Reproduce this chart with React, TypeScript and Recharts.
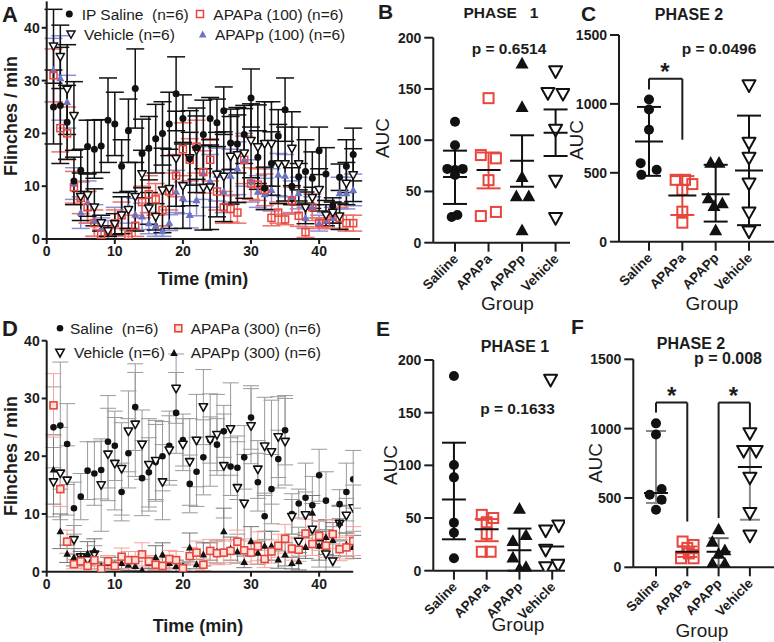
import React from 'react';
import { ScatterChart, Scatter, XAxis, YAxis, ErrorBar, ReferenceLine } from 'recharts';

const FONT = '"Liberation Sans", Arial, Helvetica, sans-serif';
const INK = '#1c1c1c';
const RED = '#e8453c';
const BLUE = '#6c72c4';

// ---------- Time course data (A: 100 mg/kg, D: 300 mg/kg) ----------
const minutes = [1, 2, 3, 4, 5, 6, 7, 8, 9, 10, 11, 12, 13, 14, 15, 16, 17, 18, 19, 20, 21, 22, 23, 24, 25, 26, 27, 28, 29, 30, 31, 32, 33, 34, 35, 36, 37, 38, 39, 40, 41, 42, 43, 44, 45];
const timeTicks = [0, 10, 20, 30, 40];

const salineFlinch = [25, 25.3, 22.1, 11, 13, 17.5, 17, 17.6, 22.5, 21.8, 13.8, 20.5, 28.5, 16.2, 17.2, 19, 20, 21.8, 27.5, 22.8, 15.2, 17.3, 19.8, 22.8, 22, 24.3, 18.2, 18, 19.8, 26.7, 15.5, 9.6, 14.3, 19.5, 24.5, 10, 11.8, 12.8, 11.5, 16.7, 12.3, 6.3, 11.7, 13.8, 16];
const salineErr = [7, 11, 7, 4.5, 4, 5, 5.5, 5, 8, 6, 5, 6, 7.5, 6.5, 6, 6.5, 6, 6, 7, 4.5, 5, 6, 6.5, 4, 4.5, 4.5, 5, 5.5, 5.5, 5.5, 5, 4, 6, 5, 6, 3.5, 2.5, 6, 5, 4.5, 5, 1.5, 2.5, 5, 5];

const vehicleA = [36.5, 34.5, 28.3, 23.3, 8, 8.3, 6, 3, 1.5, 2.8, 4.5, 5.5, 8, 12.3, 5.8, 4.2, 9.2, 9.5, 15.2, 10, 15.3, 16.8, 9.7, 9.8, 12.2, 11.8, 15.6, 15.9, 16.2, 18.6, 17.4, 18, 18, 14.2, 14.2, 17.1, 14.2, 5.9, 7.8, 9.3, 4.5, 5, 4.3, 10.5, 12.1];
const vehicleErrA = [7, 6, 8.5, 6.5, 4.5, 4, 3.5, 1.5, 1, 2, 3.5, 3.5, 6.5, 4.5, 3, 2.5, 8, 7.5, 9, 8, 9, 8, 8, 8, 8, 8.5, 9, 9, 8.5, 7, 8, 8, 8, 7.5, 7, 7, 7, 3, 2, 4, 2, 2, 2.5, 4, 5];
const apapaA = [31, 21, 20, 9.8, 7.8, 6, 3, 0.8, 1.5, 3, 4.5, 0.7, 2.5, 7, 8.5, 7.5, 5.5, 9, 12, 17, 15, 17.5, 12.7, 15, 9, 6, 5.7, 5, 15, 10.5, 10.3, 9.3, 4, 5, 3.7, 7.3, 4.4, 1.3, 6, 3, 3, 5, 4, 3, 3];
const apapaErrA = [5, 4.5, 5, 3, 3, 3, 2.5, 1, 1, 2.5, 2.5, 1, 2, 3, 3.5, 3, 3, 3.5, 4, 5, 4, 5, 4, 4, 3.5, 3, 2.5, 2, 4.5, 3, 3, 3, 1.5, 2, 1, 2.5, 2, 1, 2.5, 1, 1, 2, 2, 1.5, 1.5];
const apappA = [32, 30.5, 26, 10.5, 5, 7, 3.5, 2, 1.5, 3, 5, 6, 4.7, 4.3, 3, 2.5, 1.5, 3.1, 9, 7.8, 4.6, 7.4, 12.5, 11, 12.2, 9, 12, 13.4, 15, 11, 9, 8.5, 9.3, 12.2, 12, 8, 8.7, 4, 6, 3, 3.5, 4, 8.7, 8.7, 9.3];
const apappErrA = [6, 8, 5, 3, 3, 4, 3, 2, 2, 3, 3, 3, 3, 2.5, 2, 2, 1, 1.5, 4, 3, 2.5, 3, 5, 5, 5, 4, 5, 5, 5, 4, 3, 3, 4, 4, 4, 3, 3, 2, 2, 1.5, 1.5, 2, 3, 3, 3];

const vehicleD = [15.5, 17, 15.8, 5.5, 2.5, 2, 3, 15, 20.3, 18.7, 17.8, 24.3, 25.5, 22, 18.5, 19.2, 15.5, 21, 31.7, 22, 19, 22.7, 28.5, 22.8, 23.7, 18.3, 24.7, 14.5, 11.8, 25.2, 17.7, 21.7, 20.7, 23.3, 22.5, 9.5, 5.2, 9.8, 7.3, 4.8, 3, 1.8, 8.3, 9.7, 11];
const vehicleErrD = [6, 8, 6, 2.5, 1, 1, 1.5, 8, 8, 8, 8, 7, 9, 6, 8, 7, 6.5, 6, 6, 4.5, 7.5, 8, 6.5, 8, 7, 9, 8, 8, 8.5, 6.5, 5, 8.5, 9, 7, 7.5, 3, 2.5, 4, 4.5, 4, 4, 1, 3, 3, 4];
const apapaD = [28.8, 14.3, 5.2, 1.3, 1.8, 1, 2, 0.5, 1.8, 1, 2.6, 2, 2, 3, 1.8, 1.2, 1, 2.2, 2, 0.6, 2.7, 3.3, 1.2, 3.6, 3.2, 3.3, 3.6, 5.2, 3.7, 3.3, 4.4, 2.2, 3.5, 4.5, 5.7, 4, 3.8, 6.6, 4.8, 6.2, 4.5, 6.5, 3.9, 4.2, 5.3];
const apapaErrD = [5.5, 3, 2, 0.8, 1, 0.5, 1.5, 0.5, 1, 0.7, 1.5, 1.5, 1.5, 2, 1, 1, 0.8, 1.5, 1.5, 0.5, 1.5, 2, 1, 2, 2, 2, 2, 2, 2, 2, 2.5, 1.5, 2, 2, 2.5, 2, 2, 2.5, 2, 2.5, 2, 2.5, 2, 2, 2.5];
const apappD = [17.7, 7, 3.1, 2.5, 2.5, 3.2, 3.7, 1, 1.5, 1.2, 1.5, 1.2, 1, 0.3, 1.5, 2.5, 3, 1.5, 1, 1, 4.2, 1.3, 3, 3.5, 3.5, 7, 4, 3.5, 1.7, 5.3, 3.3, 4.5, 4.5, 2.1, 3, 1.5, 1.8, 4.3, 10.2, 4.5, 6, 5.5, 8.5, 4.7, 4.3];
const apappErrD = [6, 3, 1.5, 1.5, 1, 2, 2, 0.5, 1, 0.8, 1, 1, 0.8, 0.3, 1, 2, 2, 1, 1, 0.5, 2.5, 0.8, 2, 1.5, 2, 4, 2, 2, 1, 2.5, 2, 2.5, 2.5, 1.5, 2, 1, 1.5, 2, 3, 2.5, 3, 3, 3, 2, 2];

// ---------- AUC dot plots ----------
const groupsB = ['Saliine', 'APAPa', 'APAPp', 'Vehicle'];
const groupsStd = ['Saline', 'APAPa', 'APAPp', 'Vehicle'];
const aucTicksP1 = [0, 50, 100, 150, 200];
const aucTicksP2 = [0, 500, 1000, 1500];

// B: phase 1, 100 mg/kg
const bSalineX = [1, 1, 0.77, 1, 1.23, 1, 0.9, 1.07];
const bSalineY = [118, 95, 72, 71, 72, 66, 25, 27];
const bApapaX = [2, 1.77, 2.22, 2, 1.77, 2.22];
const bApapaY = [141, 85.5, 82.3, 61, 26, 30];
const bApappX = [3, 3, 3, 2.83, 3.2, 3];
const bApappY = [175, 132.7, 64.4, 45.6, 45.6, 12.4];
const bVehX = [4, 3.77, 4.22, 4, 4, 4];
const bVehY = [167, 145.8, 145, 110, 60.2, 23.8];
const bMean = [64, 71, 80, 107.3];
const bLow = [37.8, 53, 54.6, 84.6];
const bHigh = [89.8, 88, 104.8, 130];

// C: phase 2, 100 mg/kg
const cSalineX = [1, 1, 1, 0.75, 0.77, 1.23];
const cSalineY = [1032, 959, 813, 570, 485, 522];
const cApapaX = [1.8, 2.08, 2.3, 2, 2, 2];
const cApapaY = [449, 449, 418, 376, 218, 138];
const cApappX = [2.85, 3.1, 2.78, 3.2, 2.95, 3];
const cApappY = [575, 575, 316, 280, 260, 85];
const cVehX = [4, 4, 4, 4, 4, 4];
const cVehY = [1133, 716, 607, 420, 211, 73];
const cMean = [728, 335, 345, 517];
const cLow = [478, 194, 146, 120];
const cHigh = [978, 476, 558, 915];

// E: phase 1, 300 mg/kg
const eSalineX = [1, 1, 1, 1, 1, 1];
const eSalineY = [184.8, 100.3, 88.6, 45.6, 36, 11.8];
const eApapaX = [1.85, 2.2, 2, 2, 1.85, 2.12];
const eApapaY = [53, 50, 46, 35, 18, 18];
const eApappX = [3, 2.8, 3.2, 2.8, 3, 3.2];
const eApappY = [59, 28.5, 34, 12.7, 2.2, 3.8];
const eVehX = [3.95, 3.8, 4.2, 3.8, 3.8, 4.18];
const eVehY = [181, 38, 42.7, 19.6, 3.2, 5.4];
const eMean = [67.7, 39.3, 19.5, 23];
const eLow = [29.8, 28, 0, 23];
const eHigh = [121.5, 49, 40, 23];

// F: phase 2, 300 mg/kg
const fSalineX = [1, 1, 0.8, 1.18, 1.18, 1];
const fSalineY = [1038, 958, 524, 565, 488, 415];
const fApapaX = [1.85, 2.2, 2, 2.05, 1.8, 2.2];
const fApapaY = [186, 161, 140, 100, 65, 65];
const fApappX = [3, 2.8, 3.2, 3, 2.8, 3.2];
const fApappY = [275, 186, 125, 100, 29, 29];
const fVehX = [4, 3.8, 4.2, 4, 4, 4];
const fVehY = [966, 838, 838, 645, 391, 227];
const fMean = [536, 113, 113, 724];
const fLow = [464, 75, 15, 343];
const fHigh = [983, 150, 210, 850];

// ---------- shapes ----------
const dot = (r: number, fill: string) => (p: any) => <circle cx={p.cx} cy={p.cy} r={r} fill={fill} />;
const box = (s: number, stroke: string, fill: string, sw: number) => (p: any) => (
  <rect x={p.cx - s / 2} y={p.cy - s / 2} width={s} height={s} fill={fill} stroke={stroke} strokeWidth={sw} />
);
const triUp = (h: number, fill: string, stroke = 'none', sw = 0) => (p: any) => (
  <path d={`M${p.cx},${p.cy - h} L${p.cx + h},${p.cy + h * 0.8} L${p.cx - h},${p.cy + h * 0.8} Z`} fill={fill} stroke={stroke} strokeWidth={sw} />
);
const triDown = (h: number, fill: string, stroke: string, sw: number) => (p: any) => (
  <path d={`M${p.cx - h},${p.cy - h * 0.8} L${p.cx + h},${p.cy - h * 0.8} L${p.cx},${p.cy + h} Z`} fill={fill} stroke={stroke} strokeWidth={sw} strokeLinejoin="round" />
);
const meanBar = (w: number) => (p: any) => (
  <line x1={p.cx - w / 2} x2={p.cx + w / 2} y1={p.cy} y2={p.cy} stroke="#111" strokeWidth={2} />
);

const axisLine = { stroke: INK, strokeWidth: 2 };
const tickStyle = { fill: INK, fontSize: 14, fontWeight: 700, fontFamily: FONT };

// ---------- time course panel ----------
type TSeries = { name: string; values: number[]; errors: number[]; shape: any; errColor: string; errW: number; cap: number };

function TimePanel(props: { left: number; top: number; width: number; height: number; margin: any; xMax: number; yMax: number; yTicks: number[]; series: TSeries[] }) {
  const { left, top, width, height, margin, xMax, yMax, yTicks, series } = props;
  return (
    <div style={{ position: 'absolute', left, top }}>
      <ScatterChart width={width} height={height} margin={margin}>
        <XAxis type="number" dataKey="x" domain={[0, xMax]} ticks={timeTicks} height={25} tickSize={5} tickMargin={2}
          axisLine={axisLine} tickLine={axisLine} tick={tickStyle} allowDataOverflow />
        <YAxis type="number" dataKey="y" domain={[0, yMax]} ticks={yTicks} width={40} tickSize={5} tickMargin={2}
          axisLine={axisLine} tickLine={axisLine} tick={tickStyle} allowDataOverflow />
        {series.map((s) => (
          <Scatter key={s.name} name={s.name} isAnimationActive={false} shape={s.shape}
            data={minutes.map((t, i) => ({ x: t, y: s.values[i], err: [Math.min(s.errors[i], s.values[i]), Math.min(s.errors[i], yMax - s.values[i])] }))}>
            <ErrorBar dataKey="err" direction="y" width={s.cap} stroke={s.errColor} strokeWidth={s.errW} isAnimationActive={false} />
          </Scatter>
        ))}
      </ScatterChart>
    </div>
  );
}

// ---------- dot plot panel ----------
type Group = { xs: number[]; ys: number[]; shape: any };
type Seg = [number, number, number, number];

const angledTick = (labels: string[]) => (p: any) => {
  const { x, y, payload } = p;
  const lab = labels[Math.round(payload.value) - 1] ?? '';
  const tx = x + 4;
  const ty = y + 6;
  return (
    <text x={tx} y={ty} transform={`rotate(-45 ${tx} ${ty})`} textAnchor="end" fontSize={13.5} fontWeight={700} fontFamily={FONT} fill={INK}>
      {lab}
    </text>
  );
};

function DotPanel(props: {
  left: number; top: number; width: number; height: number; margin: any; xDomain: [number, number];
  yMax: number; yTicks: number[]; labels: string[]; groups: Group[];
  means: number[]; lows: number[]; highs: number[]; errColors: string[]; meanW: number; cap: number; segs: Seg[];
}) {
  const { left, top, width, height, margin, xDomain, yMax, yTicks, labels, groups, means, lows, highs, errColors, meanW, cap, segs } = props;
  return (
    <div style={{ position: 'absolute', left, top }}>
      <ScatterChart width={width} height={height} margin={margin}>
        <XAxis type="number" dataKey="x" domain={xDomain} ticks={[1, 2, 3, 4]} height={60} tickSize={9} tickMargin={2}
          axisLine={axisLine} tickLine={axisLine} tick={angledTick(labels)} interval={0} allowDataOverflow />
        <YAxis type="number" dataKey="y" domain={[0, yMax]} ticks={yTicks} width={45} tickSize={9} tickMargin={3}
          axisLine={axisLine} tickLine={axisLine} tick={tickStyle} interval={0} allowDataOverflow />
        {groups.map((g, gi) => (
          <Scatter key={'g' + gi} isAnimationActive={false} shape={g.shape}
            data={g.xs.map((x, j) => ({ x, y: g.ys[j] }))} />
        ))}
        {means.map((m, i) => (
          <Scatter key={'m' + i} isAnimationActive={false} shape={meanBar(meanW)}
            data={[{ x: i + 1, y: m, err: [m - lows[i], highs[i] - m] }]}>
            {highs[i] > lows[i] ? (
              <ErrorBar dataKey="err" direction="y" width={cap} stroke={errColors[i]} strokeWidth={2} isAnimationActive={false} />
            ) : null}
          </Scatter>
        ))}
        {segs.map((s, i) => (
          <ReferenceLine key={'s' + i} segment={[{ x: s[0], y: s[1] }, { x: s[2], y: s[3] }]} stroke={INK} strokeWidth={2} ifOverflow="visible" />
        ))}
      </ScatterChart>
    </div>
  );
}

// ---------- overlay text helper ----------
const T = (p: { x: number; y: number; size: number; bold?: boolean; anchor?: string; rot?: boolean; children: any; fill?: string }) => (
  <text x={p.x} y={p.y} fontSize={p.size} fontWeight={p.bold ? 700 : 400} fontFamily={FONT} fill={p.fill ?? INK}
    textAnchor={(p.anchor ?? 'start') as any} style={{ whiteSpace: 'pre' }}
    transform={p.rot ? `rotate(-90 ${p.x} ${p.y})` : undefined}>
    {p.children}
  </text>
);

export default function App() {
  const seriesA: TSeries[] = [
    { name: 'APAPp (100)', values: apappA, errors: apappErrA, shape: triUp(4, BLUE), errColor: '#8a90d8', errW: 1.5, cap: 9 },
    { name: 'APAPa (100)', values: apapaA, errors: apapaErrA, shape: box(7, RED, 'none', 1.5), errColor: '#f07068', errW: 1.5, cap: 9 },
    { name: 'Vehicle', values: vehicleA, errors: vehicleErrA, shape: triDown(4.2, '#fff', '#111', 1.5), errColor: '#111', errW: 1.5, cap: 9 },
    { name: 'IP Saline', values: salineFlinch, errors: salineErr, shape: dot(3.5, '#111'), errColor: '#111', errW: 1.5, cap: 9 },
  ];
  const seriesD: TSeries[] = [
    { name: 'Saline', values: salineFlinch, errors: salineErr, shape: dot(3.3, '#111'), errColor: '#9a9a9a', errW: 1, cap: 8 },
    { name: 'Vehicle', values: vehicleD, errors: vehicleErrD, shape: triDown(4.2, '#fff', '#111', 1.6), errColor: '#9a9a9a', errW: 1, cap: 8 },
    { name: 'APAPp (300)', values: apappD, errors: apappErrD, shape: triUp(3.8, '#111'), errColor: '#777', errW: 1, cap: 8 },
    { name: 'APAPa (300)', values: apapaD, errors: apapaErrD, shape: box(7, RED, '#fde3dc', 1.6), errColor: '#f4a49c', errW: 1, cap: 8 },
  ];

  const bigCircle = dot(5, '#111');
  const bigBox = box(10, RED, 'none', 2);
  const bigUp = triUp(6.5, '#111');
  const bigDown = triDown(6.5, '#fff', '#111', 2);

  return (
    <div style={{ position: 'absolute', left: 0, top: 0, width: 774, height: 642, background: '#fff', overflow: 'hidden' }}>
      <TimePanel left={0} top={0} width={370} height={290} margin={{ top: 1.4, right: 10, bottom: 26, left: 6.7 }}
        xMax={46} yMax={45} yTicks={[0, 10, 20, 30, 40]} series={seriesA} />
      <TimePanel left={0} top={320} width={370} height={300} margin={{ top: 20.7, right: 16.8, bottom: 23.3, left: 6.7 }}
        xMax={45} yMax={40} yTicks={[0, 10, 20, 30, 40]} series={seriesD} />

      <DotPanel left={370} top={0} width={200} height={320} margin={{ top: 37.7, right: 0, bottom: 17.3, left: 18.3 }}
        xDomain={[0.352, 4.43]} yMax={200} yTicks={aucTicksP1} labels={groupsB}
        groups={[{ xs: bSalineX, ys: bSalineY, shape: bigCircle }, { xs: bApapaX, ys: bApapaY, shape: bigBox }, { xs: bApappX, ys: bApappY, shape: bigUp }, { xs: bVehX, ys: bVehY, shape: bigDown }]}
        means={bMean} lows={bLow} highs={bHigh} errColors={['#111', RED, '#111', '#111']} meanW={24} cap={12} segs={[]} />

      <DotPanel left={570} top={0} width={204} height={320} margin={{ top: 35, right: 0, bottom: 18.3, left: 4 }}
        xDomain={[0.1, 4.75]} yMax={1500} yTicks={aucTicksP2} labels={groupsStd}
        groups={[{ xs: cSalineX, ys: cSalineY, shape: bigCircle }, { xs: cApapaX, ys: cApapaY, shape: bigBox }, { xs: cApappX, ys: cApappY, shape: bigUp }, { xs: cVehX, ys: cVehY, shape: bigDown }]}
        means={cMean} lows={cLow} highs={cHigh} errColors={['#111', RED, '#111', '#111']} meanW={28} cap={12}
        segs={[[1, 1104, 1, 1182], [1, 1182, 2, 1182], [2, 1182, 2, 740]]} />

      <DotPanel left={370} top={320} width={200} height={322} margin={{ top: 40, right: 5, bottom: 11.3, left: 18.3 }}
        xDomain={[0.37, 4.39]} yMax={200} yTicks={aucTicksP1} labels={groupsStd}
        groups={[{ xs: eSalineX, ys: eSalineY, shape: bigCircle }, { xs: eApapaX, ys: eApapaY, shape: bigBox }, { xs: eApappX, ys: eApappY, shape: bigUp }, { xs: eVehX, ys: eVehY, shape: bigDown }]}
        means={eMean} lows={eLow} highs={eHigh} errColors={['#111', RED, '#111', '#111']} meanW={24} cap={12} segs={[]} />

      <DotPanel left={570} top={320} width={204} height={322} margin={{ top: 39.3, right: 0, bottom: 14.7, left: 18.3 }}
        xDomain={[0.275, 4.77]} yMax={1500} yTicks={aucTicksP2} labels={groupsStd}
        groups={[{ xs: fSalineX, ys: fSalineY, shape: bigCircle }, { xs: fApapaX, ys: fApapaY, shape: bigBox }, { xs: fApappX, ys: fApappY, shape: bigUp }, { xs: fVehX, ys: fVehY, shape: bigDown }]}
        means={fMean} lows={fLow} highs={fHigh} errColors={['#888', RED, '#666', '#888']} meanW={24} cap={10}
        segs={[[1, 1116, 1, 1188], [1, 1188, 2, 1188], [2, 1188, 2, 330], [3, 355, 3, 1188], [3, 1188, 4, 1188], [4, 1188, 4, 1007]]} />

      <svg width={774} height={642} style={{ position: 'absolute', left: 0, top: 0, pointerEvents: 'none' }}>
        {/* panel letters */}
        <T x={2} y={22} size={22} bold>A</T>
        <T x={2} y={336} size={22} bold>D</T>
        <T x={378} y={19} size={21} bold>B</T>
        <T x={581} y={21} size={21} bold>C</T>
        <T x={376} y={336} size={21} bold>E</T>
        <T x={571} y={334} size={21} bold>F</T>

        {/* legend A */}
        <circle cx={69.3} cy={14} r={3.5} fill="#111" />
        <T x={81.7} y={19.5} size={15.5}>{'IP Saline  (n=6)'}</T>
        <rect x={196.5} y={10.5} width={7} height={7} fill="none" stroke={RED} strokeWidth={1.5} />
        <T x={213.3} y={19.5} size={15.5}>APAPa (100) (n=6)</T>
        <path d="M67,31 L75,31 L71,38.3 Z" fill="#fff" stroke="#111" strokeWidth={1.5} />
        <T x={84} y={40} size={15.5}>Vehicle (n=6)</T>
        <path d="M202.7,30.5 L206.5,37.5 L198.9,37.5 Z" fill={BLUE} />
        <T x={215} y={40} size={15.5}>APAPp (100) (n=6)</T>

        {/* legend D */}
        <circle cx={60} cy={328.3} r={3.3} fill="#111" />
        <T x={70} y={333.5} size={15.5}>{'Saline  (n=6)'}</T>
        <rect x={174.8} y={324.8} width={7} height={7} fill="#fde3dc" stroke={RED} strokeWidth={1.6} />
        <T x={190.7} y={333.5} size={15.5}>APAPa (300) (n=6)</T>
        <path d="M55.8,349.3 L64.2,349.3 L60,357 Z" fill="#fff" stroke="#111" strokeWidth={1.6} />
        <T x={74} y={358} size={15.5}>Vehicle (n=6)</T>
        <path d="M174,349 L177.8,356 L170.2,356 Z" fill="#111" />
        <T x={190.7} y={358} size={15.5}>APAPp (300) (n=6)</T>

        {/* axis titles, time course */}
        <T x={17} y={116} size={18} bold rot anchor="middle">Flinches / min</T>
        <T x={203} y={285} size={18} bold anchor="middle">Time (min)</T>
        <T x={17} y={456} size={18} bold rot anchor="middle">Flinches / min</T>
        <T x={198} y={632} size={18} bold anchor="middle">Time (min)</T>

        {/* titles & p values */}
        <T x={501} y={18} size={15.5} bold anchor="middle">{'PHASE   1'}</T>
        <T x={689} y={20} size={16} bold anchor="middle">PHASE 2</T>
        <T x={515} y={351.5} size={16} bold anchor="middle">PHASE 1</T>
        <T x={691} y={349} size={16} bold anchor="middle">PHASE 2</T>
        <T x={509} y={53.5} size={15.5} bold anchor="middle">p = 0.6514</T>
        <T x={719} y={53.5} size={15.5} bold anchor="middle">p = 0.0496</T>
        <T x={517.5} y={413.5} size={15.5} bold anchor="middle">p = 0.1633</T>
        <T x={728} y={363.5} size={16} bold anchor="middle">p = 0.008</T>

        {/* asterisks */}
        <T x={665} y={80} size={24} bold anchor="middle">*</T>
        <T x={671.7} y={403.5} size={24} bold anchor="middle">*</T>
        <T x={733.3} y={403.5} size={24} bold anchor="middle">*</T>

        {/* AUC & Group labels */}
        <T x={389} y={138} size={19} rot anchor="middle">AUC</T>
        <T x={583} y={140} size={19} rot anchor="middle">AUC</T>
        <T x={397} y={465} size={19} rot anchor="middle">AUC</T>
        <T x={602} y={463} size={19} rot anchor="middle">AUC</T>
        <T x={507.5} y={310} size={19} anchor="middle">Group</T>
        <T x={712} y={310} size={19} anchor="middle">Group</T>
        <T x={518} y={631} size={19} anchor="middle">Group</T>
        <T x={702} y={637} size={19} anchor="middle">Group</T>
      </svg>
    </div>
  );
}
